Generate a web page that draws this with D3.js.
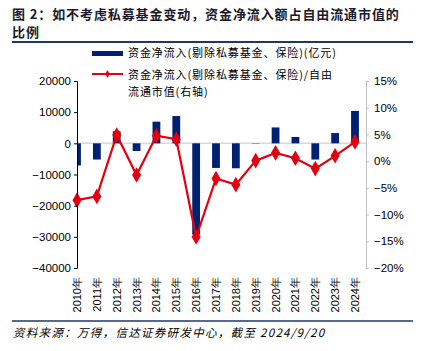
<!DOCTYPE html>
<html>
<head>
<meta charset="utf-8">
<script src="https://cdn.jsdelivr.net/npm/d3@7"></script>
<style>
  body { margin: 0; background: #fff; }
  svg { display: block; }
</style>
</head>
<body>
<div id="container"></div>
<script>
/* DATA */
const years = ["2010年","2011年","2012年","2013年","2014年","2015年","2016年","2017年","2018年","2019年","2020年","2021年","2022年","2023年","2024年"]
const netInflow = [-7100, -5200, 3850, -2450, 6950, 8750, -29300, -7900, -8000, 100, 5100, 2050, -5200, 3300, 10400]
const inflowRatio = [-7.3, -6.6, 4.9, -2.6, 4.75, 4.1, -14.2, -3.25, -4.4, 0.1, 1.55, 0.55, -1.4, 1.0, 3.6]
const leftTicks = [20000, 10000, 0, -10000, -20000, -30000, -40000]
const rightTicks = [15, 10, 5, 0, -5, -10, -15, -20]

/* CONSTANTS */
const width = 427, height = 351
const plotLeft = 77, plotRight = 366, plotTop = 81, plotBottom = 268
const font = "'Liberation Sans', Arial, sans-serif"
const cjk = "'Noto Sans CJK SC', sans-serif"

const svg = d3.select("#container").append("svg")
  .attr("width", width).attr("height", height)

/* TITLE */
svg.append("text").attr("x", 12).attr("y", 19)
  .attr("font-family", cjk).attr("font-weight", "bold").attr("font-size", 13)
  .attr("fill", "#1a1a2e").attr("letter-spacing", 0.9)
  .text("图 2：如不考虑私募基金变动，资金净流入额占自由流通市值的")
svg.append("text").attr("x", 12).attr("y", 37)
  .attr("font-family", cjk).attr("font-weight", "bold").attr("font-size", 13)
  .attr("fill", "#1a1a2e").attr("letter-spacing", 0.9)
  .text("比例")
svg.append("line").attr("x1", 12).attr("x2", 413).attr("y1", 42).attr("y2", 42)
  .attr("stroke", "#1f3864").attr("stroke-width", 2)

/* SCALES */
const xScale = d3.scalePoint().domain(years).range([77, 355])
const yLeft = d3.scaleLinear().domain([-40000, 20000]).range([plotBottom, plotTop])
const yRight = d3.scaleLinear().domain([-20, 15]).range([plotBottom, plotTop])

svg.append("clipPath").attr("id", "plot")
  .append("rect").attr("x", plotLeft).attr("y", 0).attr("width", plotRight - plotLeft).attr("height", height)

// zero line
svg.append("line").attr("x1", plotLeft).attr("x2", plotRight)
  .attr("y1", yLeft(0)).attr("y2", yLeft(0))
  .attr("stroke", "#d9d9d9").attr("stroke-width", 1.5)

// bars
const barW = 7.8
svg.append("g").attr("clip-path", "url(#plot)")
  .selectAll("rect.bar")
  .data(years.map((y, i) => ({ year: y, v: netInflow[i] })))
  .join("rect")
  .attr("class", "bar")
  .attr("x", d => xScale(d.year) - barW / 2)
  .attr("width", barW)
  .attr("y", d => yLeft(Math.max(0, d.v)))
  .attr("height", d => Math.abs(yLeft(d.v) - yLeft(0)))
  .attr("fill", "#002072")

// line
const lineData = years.map((y, i) => ({ year: y, v: inflowRatio[i] }))
svg.append("path").datum(lineData)
  .attr("fill", "none").attr("stroke", "#e3000f").attr("stroke-width", 2.2)
  .attr("d", d3.line().x(d => xScale(d.year)).y(d => yRight(d.v)))

const diamond = d3.symbol().type(d3.symbolDiamond).size(70)
svg.append("g").selectAll("path.marker")
  .data(lineData)
  .join("path")
  .attr("class", "marker")
  .attr("transform", d => `translate(${xScale(d.year)},${yRight(d.v)})`)
  .attr("d", diamond)
  .attr("fill", "#e3000f")

/* AXES */
const yAxisL = svg.append("g").attr("transform", `translate(${plotLeft},0)`)
  .call(d3.axisLeft(yLeft).tickValues(leftTicks).tickSize(3).tickFormat(d => d < 0 ? "−" + Math.abs(d) : d))
yAxisL.select(".domain").attr("stroke", "#000")
yAxisL.selectAll("text").attr("font-family", font).attr("font-size", 11.5).attr("fill", "#000").attr("x", -6)

const yAxisR = svg.append("g").attr("transform", `translate(${plotRight},0)`)
  .call(d3.axisRight(yRight).tickValues(rightTicks).tickSize(3).tickFormat(d => (d < 0 ? "−" + Math.abs(d) : d) + "%"))
yAxisR.selectAll(".domain, line").attr("stroke", "#bfbfbf")
yAxisR.selectAll("text").attr("font-family", font).attr("font-size", 11.5).attr("fill", "#000").attr("x", 8)

// x labels (rotated)
svg.append("g").selectAll("text.xlab")
  .data(years)
  .join("text")
  .attr("class", "xlab")
  .attr("transform", d => `translate(${xScale(d) + 4},277) rotate(-90)`)
  .attr("text-anchor", "end")
  .attr("font-family", font).attr("font-size", 11)
  .text(d => d)

/* LEGEND */
svg.append("rect").attr("x", 92).attr("y", 51).attr("width", 31).attr("height", 5).attr("fill", "#002072")
svg.append("line").attr("x1", 92).attr("x2", 123).attr("y1", 74).attr("y2", 74)
  .attr("stroke", "#e3000f").attr("stroke-width", 2)
svg.append("path").attr("transform", "translate(107.5,74)")
  .attr("d", d3.symbol().type(d3.symbolDiamond).size(18)).attr("fill", "#e3000f")

const legend = [["资金净流入(剔除私募基金、保险)(亿元)", 57], ["资金净流入(剔除私募基金、保险)/自由", 79], ["流通市值(右轴)", 96]]
svg.append("g").selectAll("text.leg")
  .data(legend)
  .join("text")
  .attr("x", 128).attr("y", d => d[1])
  .attr("font-family", cjk).attr("font-size", 11).attr("letter-spacing", 0.9)
  .attr("fill", "#000")
  .text(d => d[0])

/* SOURCE */
svg.append("line").attr("x1", 12).attr("x2", 413).attr("y1", 321).attr("y2", 321)
  .attr("stroke", "#1f3864").attr("stroke-width", 1.5)
svg.append("text").attr("x", 13).attr("y", 337)
  .attr("font-family", cjk).attr("font-size", 11.5).attr("font-style", "italic")
  .attr("letter-spacing", 1.3)
  .text("资料来源：万得，信达证券研发中心，截至 2024/9/20")
</script>
</body>
</html>
